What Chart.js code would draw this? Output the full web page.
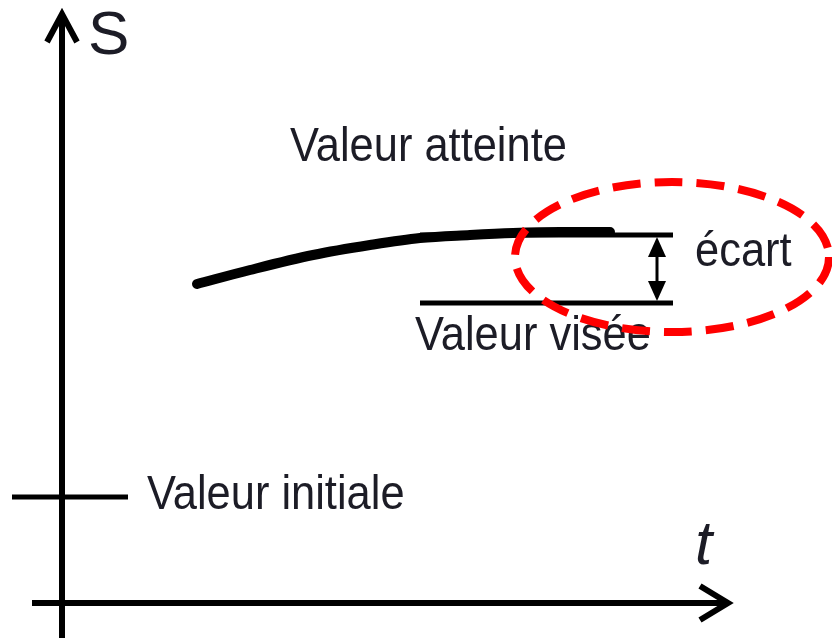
<!DOCTYPE html>
<html>
<head>
<meta charset="utf-8">
<script src="https://cdn.jsdelivr.net/npm/chart.js@4/dist/chart.umd.min.js"></script>
<style>
  html, body { margin: 0; padding: 0; background: #fff; }
  canvas { display: block; }
</style>
</head>
<body>
<canvas id="c" width="832" height="638"></canvas>
<script>
// schematic response: S (signal) against t (time), arbitrary units
var curveT = [1.35, 1.88, 2.51, 3.08, 3.58, 4.08, 4.51, 4.98, 5.48];
var curveS = [3.19, 3.33, 3.48, 3.58, 3.65, 3.68, 3.70, 3.71, 3.71];

var reachedS = 3.68;   // valeur atteinte
var targetS = 3.00;    // valeur visée
var initialS = 1.06;   // valeur initiale
var levelT = [3.58, 6.11];
var initialT = [-0.50, 0.66];
var gapT = 5.95;       // where the "écart" arrow sits

var labels = {
  axisY: "S",
  axisX: "t",
  reached: "Valeur atteinte",
  target: "Valeur visée",
  initial: "Valeur initiale",
  gap: "écart"
};

var ink = "#000";
var textInk = "#1c1c26";

function pts(ts, ss) {
  return ts.map(function (t, i) { return { x: t, y: ss[i] }; });
}

var schematic = {
  id: "schematic",
  afterDatasetsDraw: function (chart) {
    var ctx = chart.ctx;
    var X = function (v) { return chart.scales.x.getPixelForValue(v); };
    var Y = function (v) { return chart.scales.y.getPixelForValue(v); };
    ctx.save();
    ctx.lineCap = "butt";
    ctx.strokeStyle = ink;
    ctx.fillStyle = ink;

    // vertical axis S
    ctx.lineWidth = 6;
    ctx.beginPath();
    ctx.moveTo(X(0), Y(-0.40));
    ctx.lineTo(X(0), Y(5.89));
    ctx.stroke();
    ctx.lineJoin = "miter";
    ctx.beginPath();
    ctx.moveTo(X(-0.15), Y(5.61));
    ctx.lineTo(X(0), Y(5.89));
    ctx.lineTo(X(0.15), Y(5.61));
    ctx.stroke();

    // horizontal axis t
    ctx.beginPath();
    ctx.moveTo(X(-0.30), Y(0));
    ctx.lineTo(X(6.64), Y(0));
    ctx.stroke();
    ctx.beginPath();
    ctx.moveTo(X(6.38), Y(0.17));
    ctx.lineTo(X(6.66), Y(0));
    ctx.lineTo(X(6.38), Y(-0.17));
    ctx.stroke();

    // double arrow for the gap
    var ax = X(gapT), top = Y(reachedS), bot = Y(targetS);
    ctx.lineWidth = 3;
    ctx.beginPath();
    ctx.moveTo(ax, top + 12);
    ctx.lineTo(ax, bot - 12);
    ctx.stroke();
    ctx.beginPath();
    ctx.moveTo(ax, top + 2);
    ctx.lineTo(ax - 9, top + 22);
    ctx.lineTo(ax + 9, top + 22);
    ctx.closePath();
    ctx.fill();
    ctx.beginPath();
    ctx.moveTo(ax, bot - 2);
    ctx.lineTo(ax - 9, bot - 22);
    ctx.lineTo(ax + 9, bot - 22);
    ctx.closePath();
    ctx.fill();

    // texts
    ctx.fillStyle = textInk;
    ctx.textBaseline = "middle";
    ctx.textAlign = "left";
    function txt(s, t, v, font, sx) {
      ctx.save();
      ctx.font = font;
      ctx.translate(X(t), Y(v));
      ctx.scale(sx, 1);
      ctx.fillText(s, 0, 0);
      ctx.restore();
    }
    var f = "48px 'Liberation Sans', Arial, sans-serif";
    txt(labels.reached, 2.28, 4.55, f, 0.905);
    txt(labels.target, 3.53, 2.66, f, 0.905);
    txt(labels.initial, 0.85, 1.07, f, 0.905);
    txt(labels.gap, 6.33, 3.50, f, 0.905);
    txt(labels.axisY, 0.26, 5.66, "62px 'Liberation Sans', Arial, sans-serif", 1);
    txt(labels.axisX, 6.33, 0.56, "italic 62px 'Liberation Sans', Arial, sans-serif", 1);

    // red dashed ellipse around the gap
    ctx.strokeStyle = "#ff0000";
    ctx.lineWidth = 8;
    ctx.setLineDash([28, 14]);
    ctx.beginPath();
    ctx.ellipse(X(6.10), Y(3.46), X(7.67) - X(6.10), Y(2.71) - Y(3.46), 0, 0, Math.PI * 2);
    ctx.stroke();
    ctx.restore();
  }
};

new Chart(document.getElementById("c"), {
  type: "scatter",
  data: {
    datasets: [{
      label: "réponse",
      data: pts(curveT, curveS),
      showLine: true,
      borderColor: ink,
      borderWidth: 10,
      borderCapStyle: "round",
      cubicInterpolationMode: "monotone",
      pointRadius: 0
    }, {
      label: "valeur atteinte",
      data: pts(levelT, [reachedS, reachedS]),
      showLine: true,
      borderColor: ink,
      borderWidth: 5,
      pointRadius: 0
    }, {
      label: "valeur visée",
      data: pts(levelT, [targetS, targetS]),
      showLine: true,
      borderColor: ink,
      borderWidth: 5,
      pointRadius: 0
    }, {
      label: "valeur initiale",
      data: pts(initialT, [initialS, initialS]),
      showLine: true,
      borderColor: ink,
      borderWidth: 5,
      pointRadius: 0
    }]
  },
  options: {
    responsive: false,
    animation: false,
    layout: { padding: 0 },
    clip: false,
    plugins: { legend: { display: false }, tooltip: { enabled: false } },
    scales: {
      x: { type: "linear", min: -0.62, max: 7.70, display: false },
      y: { type: "linear", min: -0.35, max: 6.03, display: false }
    }
  },
  plugins: [schematic]
});
</script>
</body>
</html>
